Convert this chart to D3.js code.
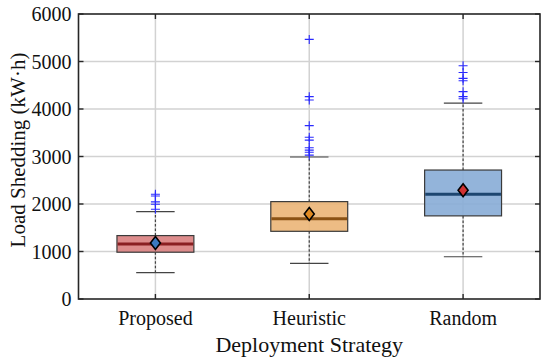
<!DOCTYPE html>
<html><head><meta charset="utf-8">
<script src="https://cdn.jsdelivr.net/npm/d3@7"></script>
<style>body{margin:0;background:#fff;} svg{display:block;}</style>
</head><body>
<svg id="chart" width="550" height="362"></svg>
<script>
const categories = ["Proposed", "Heuristic", "Random"];
const q1 = [985, 1425, 1750];
const median = [1160, 1690, 2205];
const q3 = [1335, 2050, 2715];
const whiskerLow = [555, 750, 890];
const whiskerHigh = [1840, 2990, 4125];
const means = [1180, 1790, 2290];
const outliers = [
  [1890, 1995, 2045, 2170, 2205],
  [3030, 3090, 3135, 3185, 3345, 3405, 3650, 4190, 4260, 5465],
  [4215, 4260, 4365, 4595, 4645, 4770, 4910]
];
const boxFill = ["#d97f80", "#ebb577", "#87acd6"];
const medianColor = ["#8a1f22", "#8a5214", "#1d4670"];
const meanColor = ["#3b79c0", "#e08a22", "#d03232"];
const yTicks = [0, 1000, 2000, 3000, 4000, 5000, 6000];

const svg = d3.select("#chart");
const m = {left: 78.5, right: 10, top: 14, bottom: 63};
const W = 550, H = 362;
const x = d3.scaleLinear().domain([0.5, 3.5]).range([m.left, W - m.right]);
const y = d3.scaleLinear().domain([0, 6000]).range([H - m.bottom, m.top]);
const bw = (x(1) - x(0)) * 0.5;

const font = "'Liberation Serif','Times New Roman',serif";
const g = svg.append("g");

// grid
g.append("g").selectAll("line").data(yTicks.slice(1, -1)).join("line")
  .attr("x1", x(0.5)).attr("x2", x(3.5)).attr("y1", d => y(d)).attr("y2", d => y(d))
  .attr("stroke", "#d2d2d2").attr("stroke-width", 1.5);
g.append("g").selectAll("line").data(categories).join("line")
  .attr("x1", (d, i) => x(i + 1)).attr("x2", (d, i) => x(i + 1)).attr("y1", y(0)).attr("y2", y(6000))
  .attr("stroke", "#d2d2d2").attr("stroke-width", 1.5);

const idx = d3.range(categories.length);
// whiskers
g.append("g").selectAll("line").data(idx).join("line")
  .attr("x1", i => x(i + 1)).attr("x2", i => x(i + 1))
  .attr("y1", i => y(q3[i])).attr("y2", i => y(whiskerHigh[i]))
  .attr("stroke", "#444").attr("stroke-width", 1.2).attr("stroke-dasharray", "2.5,2");
g.append("g").selectAll("line").data(idx).join("line")
  .attr("x1", i => x(i + 1)).attr("x2", i => x(i + 1))
  .attr("y1", i => y(q1[i])).attr("y2", i => y(whiskerLow[i]))
  .attr("stroke", "#444").attr("stroke-width", 1.2).attr("stroke-dasharray", "2.5,2");
// caps
const capW = bw * 0.5;
["high", "low"].forEach(k => {
  g.append("g").selectAll("line").data(idx).join("line")
    .attr("x1", i => x(i + 1) - capW / 2).attr("x2", i => x(i + 1) + capW / 2)
    .attr("y1", i => y(k === "high" ? whiskerHigh[i] : whiskerLow[i]))
    .attr("y2", i => y(k === "high" ? whiskerHigh[i] : whiskerLow[i]))
    .attr("stroke", "#444").attr("stroke-width", 1.2);
});
// boxes
g.append("g").selectAll("rect").data(idx).join("rect")
  .attr("x", i => x(i + 1) - bw / 2).attr("width", bw)
  .attr("y", i => y(q3[i])).attr("height", i => y(q1[i]) - y(q3[i]))
  .attr("fill", i => boxFill[i]).attr("fill-opacity", 0.9)
  .attr("stroke", "#3a3a3a").attr("stroke-width", 1.2);
// medians
g.append("g").selectAll("line").data(idx).join("line")
  .attr("x1", i => x(i + 1) - bw / 2 + 0.6).attr("x2", i => x(i + 1) + bw / 2 - 0.6)
  .attr("y1", i => y(median[i])).attr("y2", i => y(median[i]))
  .attr("stroke", i => medianColor[i]).attr("stroke-width", 3);
// outliers
idx.forEach(i => {
  g.append("g").selectAll("path").data(outliers[i]).join("path")
    .attr("d", d => { const cx = x(i + 1), cy = y(d), s = 4.5; return `M${cx - s},${cy}H${cx + s}M${cx},${cy - s}V${cy + s}`; })
    .attr("stroke", "#2a2aff").attr("stroke-width", 1.1).attr("fill", "none");
});
// means
g.append("g").selectAll("path").data(idx).join("path")
  .attr("d", i => { const cx = x(i + 1), cy = y(means[i]), w = 5, h = 6.5; return `M${cx},${cy - h}L${cx + w},${cy}L${cx},${cy + h}L${cx - w},${cy}Z`; })
  .attr("fill", i => meanColor[i]).attr("stroke", "#000").attr("stroke-width", 1.6);

// frame
g.append("rect").attr("x", x(0.5)).attr("y", y(6000)).attr("width", x(3.5) - x(0.5)).attr("height", y(0) - y(6000))
  .attr("fill", "none").attr("stroke", "#262626").attr("stroke-width", 1.6);
// ticks
const tl = 5;
g.append("g").selectAll("line").data(yTicks).join("line")
  .attr("x1", x(0.5)).attr("x2", x(0.5) + tl).attr("y1", d => y(d)).attr("y2", d => y(d))
  .attr("stroke", "#262626").attr("stroke-width", 1.4);
g.append("g").selectAll("line").data(yTicks).join("line")
  .attr("x1", x(3.5)).attr("x2", x(3.5) - tl).attr("y1", d => y(d)).attr("y2", d => y(d))
  .attr("stroke", "#262626").attr("stroke-width", 1.4);
g.append("g").selectAll("line").data(idx).join("line")
  .attr("x1", i => x(i + 1)).attr("x2", i => x(i + 1)).attr("y1", y(0)).attr("y2", y(0) - tl)
  .attr("stroke", "#262626").attr("stroke-width", 1.4);
g.append("g").selectAll("line").data(idx).join("line")
  .attr("x1", i => x(i + 1)).attr("x2", i => x(i + 1)).attr("y1", y(6000)).attr("y2", y(6000) + tl)
  .attr("stroke", "#262626").attr("stroke-width", 1.4);

// tick labels
g.append("g").selectAll("text").data(yTicks).join("text")
  .attr("x", x(0.5) - 7).attr("y", d => y(d)).attr("dy", "0.35em")
  .attr("text-anchor", "end").attr("font-family", font).attr("font-size", 20).attr("fill", "#111")
  .text(d => d);
g.append("g").selectAll("text").data(categories).join("text")
  .attr("x", (d, i) => x(i + 1)).attr("y", 325)
  .attr("text-anchor", "middle").attr("font-family", font).attr("font-size", 20).attr("fill", "#111")
  .text(d => d);
// axis labels
svg.append("text").attr("x", x(2)).attr("y", 352).attr("text-anchor", "middle")
  .attr("font-family", font).attr("font-size", 22).attr("fill", "#111").text("Deployment Strategy");
svg.append("text").attr("transform", `translate(25,150) rotate(-90)`).attr("text-anchor", "middle")
  .attr("font-family", font).attr("font-size", 21).attr("fill", "#111").text("Load Shedding (kW·h)");
</script>
</body></html>
